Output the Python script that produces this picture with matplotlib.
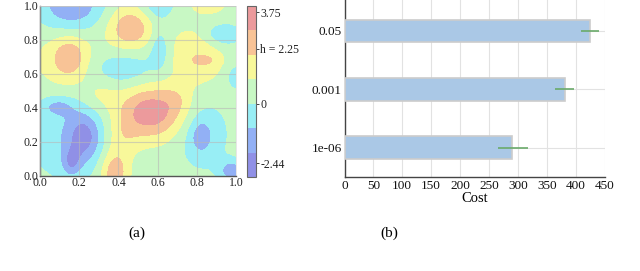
import numpy as np
import matplotlib
matplotlib.use("Agg")
import matplotlib.pyplot as plt
from matplotlib.colors import ListedColormap, BoundaryNorm

plt.rcParams['font.family'] = ['Liberation Serif', 'DejaVu Serif']

# ---------------- data: left panel (features) -------------
base_level = 0.5
bump_x   = [0.16, 0.46, 0.60, 0.86, 0.61, 0.93, 0.80, 0.845, 1.00, 0.15, 0.15, 0.41, 0.565, 0.31, 0.42, 0.70, 0.16, 0.225, 0.16, 0.09, 0.38, 0.83, 0.82, 0.98, 0.955]
bump_y   = [1.00, 0.87, 1.00, 1.02, 0.75, 0.83, 0.70, 0.68, 0.585, 0.70, 0.65, 0.63, 0.375, 0.48, 0.22, 0.45, 0.25, 0.23, 0.08, 0.41, 0.02, 0.25, 0.235, 0.03, 0.44]
bump_amp = [-2.4, 2.3, -1.4, 1.0, -1.4, -1.6, 1.4, 0.7, -1.3, 1.7, 1.0, -1.4, 3.2, 0.8, 1.0, 0.6, -1.3, -2.0, -1.7, -1.3, 2.3, -1.1, -1.3, -2.2, 0.7]
bump_sx  = [0.12, 0.08, 0.06, 0.07, 0.035, 0.07, 0.10, 0.04, 0.035, 0.06, 0.15, 0.13, 0.12, 0.07, 0.06, 0.05, 0.16, 0.06, 0.035, 0.06, 0.05, 0.10, 0.04, 0.045, 0.015]
bump_sy  = [0.11, 0.09, 0.06, 0.05, 0.085, 0.05, 0.12, 0.02, 0.05, 0.085, 0.15, 0.085, 0.11, 0.07, 0.09, 0.06, 0.20, 0.10, 0.06, 0.04, 0.09, 0.16, 0.07, 0.045, 0.02]

levels = [-3, -2, -1, 0, 1, 2, 3, 4]
level_colors = ['#9090e6', '#92b0f5', '#98eef5', '#c8f8c4', '#f8f89a', '#f8c396', '#ec9a9c']
cbar_ticks = [3.75, 2.25, 0, -2.44]
cbar_labels = ['3.75', 'h = 2.25', '0', '-2.44']

# ---------------- data: right panel --------------------------------------------
categories = ['1e-06', '0.001', '0.05']
costs = [290, 381, 425]
err_low = [265, 365, 410]
err_high = [318, 397, 440]

fig = plt.figure(figsize=(6.4, 2.71), dpi=100)
W, H = 640, 271

def ax_rect(l, t, r, b):
    return [l / W, 1 - b / H, (r - l) / W, (b - t) / H]

# ---------------- left panel ----------------------------------------------------
ax1 = fig.add_axes(ax_rect(40, 6, 236, 176))
gx = np.linspace(0, 1, 300)
gy = np.linspace(0, 1, 300)
X, Y = np.meshgrid(gx, gy)
Z = np.full_like(X, base_level)
for cx, cy, a, sx, sy in zip(bump_x, bump_y, bump_amp, bump_sx, bump_sy):
    Z += a * np.exp(-((X - cx) ** 2 / (2 * sx ** 2) + (Y - cy) ** 2 / (2 * sy ** 2)))
Z = np.clip(Z, levels[0] + 0.01, levels[-1] - 0.01)
cmap = ListedColormap(level_colors)
norm = BoundaryNorm(levels, cmap.N)
cs = ax1.contourf(X, Y, Z, levels=levels, cmap=cmap, norm=norm)
ax1.set_xlim(0, 1)
ax1.set_ylim(0, 1)
ticks01 = np.arange(0, 1.01, 0.2)
ax1.set_xticks(ticks01)
ax1.set_yticks(ticks01)
ax1.set_xticklabels([f'{v:.1f}' for v in ticks01])
ax1.set_yticklabels([f'{v:.1f}' for v in ticks01])
ax1.grid(True, color='#b8b8b8', linewidth=0.8, alpha=0.6)
ax1.set_axisbelow(False)
ax1.tick_params(axis='both', labelsize=8.5, length=0, pad=1, colors='#222222')
for s in ['top', 'right']:
    ax1.spines[s].set_color('#dddddd')
    ax1.spines[s].set_linewidth(0.5)
for s in ['left', 'bottom']:
    ax1.spines[s].set_color('#555555')
    ax1.spines[s].set_linewidth(1.0)

cax = fig.add_axes(ax_rect(247, 6, 256, 177))
cb = fig.colorbar(cs, cax=cax, ticks=cbar_ticks)
cb.minorticks_off()
cb.ax.set_yticklabels(cbar_labels)
cb.ax.tick_params(labelsize=8.5, length=2, width=0.6, pad=1, colors='#222222')
cb.outline.set_edgecolor('#666666')
cb.outline.set_linewidth(0.8)

fig.text(137 / W, 1 - 233 / H, '(a)', ha='center', va='center', fontsize=11)

# ---------------- right panel ---------------------------------------------------
ax2 = fig.add_axes(ax_rect(344.5, 0, 604.5, 177))
ypos = np.arange(len(categories))
ax2.barh(ypos, costs, height=0.39, color='#aac8e6', edgecolor='#cccccc', linewidth=1.2, zorder=3)
err_l = np.array(costs) - np.array(err_low)
err_h = np.array(err_high) - np.array(costs)
ax2.errorbar(costs, ypos, xerr=[err_l, err_h], fmt='none', ecolor='#6aaa6a', elinewidth=1.2, capsize=0, zorder=4)
ax2.set_yticks(ypos)
ax2.set_yticklabels(categories)
ax2.set_xlim(0, 450)
ax2.set_ylim(-0.5, 2.53)
ax2.set_xticks(np.arange(0, 451, 50))
ax2.grid(True, color='#e2e2e2', linewidth=0.8, zorder=0)
ax2.set_axisbelow(True)
ax2.tick_params(axis='both', labelsize=9.5, length=0, pad=2, colors='#111111')
ax2.set_xlabel('Cost', fontsize=10.5, labelpad=0)
for s in ['top', 'right']:
    ax2.spines[s].set_visible(False)
for s in ['left', 'bottom']:
    ax2.spines[s].set_color('#444444')
    ax2.spines[s].set_linewidth(1.0)

fig.text(389 / W, 1 - 233 / H, '(b)', ha='center', va='center', fontsize=11)

fig.savefig('out.png', dpi=100, facecolor='white')
